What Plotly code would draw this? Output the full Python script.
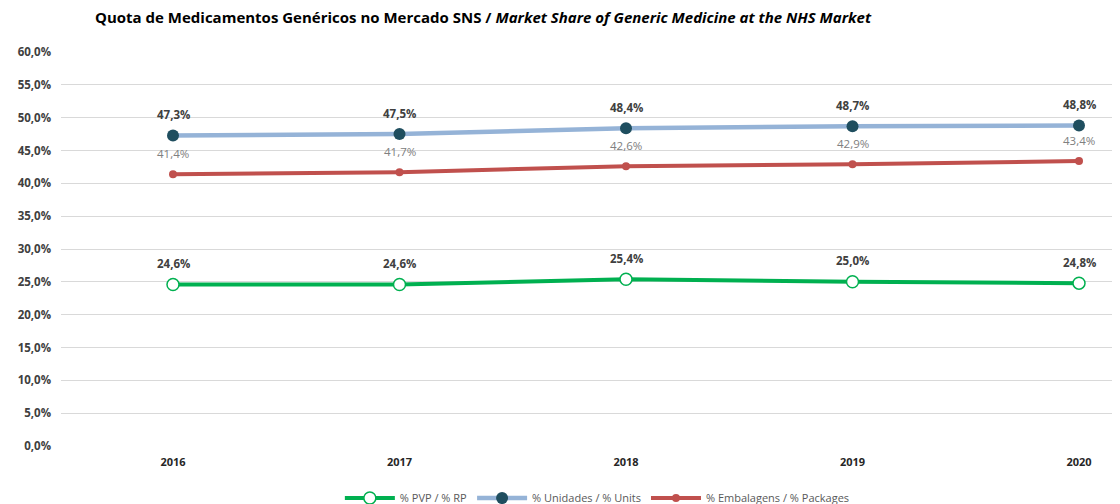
import plotly.graph_objects as go

years = ["2016", "2017", "2018", "2019", "2020"]
pvp = [24.6, 24.6, 25.4, 25.0, 24.8]
unidades = [47.3, 47.5, 48.4, 48.7, 48.8]
embalagens = [41.4, 41.7, 42.6, 42.9, 43.4]
y_ticks = [0, 5, 10, 15, 20, 25, 30, 35, 40, 45, 50, 55, 60]

def lab(v):
    return [f"{x:.1f}%".replace(".", ",") for x in v]

FONT = "Open Sans"
xi = list(range(len(years)))
fig = go.Figure()

fig.add_trace(go.Scatter(
    x=xi, y=pvp, name="% PVP / % RP", mode="lines+markers",
    line=dict(color="#00B050", width=4),
    marker=dict(symbol="circle", size=12, color="white", line=dict(color="#00B050", width=1.5)),
))
fig.add_trace(go.Scatter(
    x=xi, y=unidades, name="% Unidades / % Units", mode="lines+markers",
    line=dict(color="#95B3D7", width=4.5),
    marker=dict(symbol="circle", size=12, color="#1F4E5F"),
))
fig.add_trace(go.Scatter(
    x=xi, y=embalagens, name="% Embalagens / % Packages", mode="lines+markers",
    line=dict(color="#C0504D", width=4),
    marker=dict(symbol="circle", size=8, color="#C0504D"),
))

annotations = []
for vals, color, bold in [(unidades, "#404040", True), (embalagens, "#808080", False), (pvp, "#404040", True)]:
    for x, y, t in zip(xi, vals, lab(vals)):
        annotations.append(dict(
            x=x, y=y, text=f"<b>{t}</b>" if bold else t, showarrow=False,
            yshift=21, xanchor="center", yanchor="middle",
            font=dict(family=FONT, size=11.5, color=color),
        ))

fig.update_layout(
    width=1112, height=496,
    margin=dict(l=53, r=0, t=44, b=58),
    paper_bgcolor="white", plot_bgcolor="white",
    annotations=annotations,
    title=dict(
        text="<b>Quota de Medicamentos Genéricos no Mercado SNS / <i>Market Share of Generic Medicine at the NHS Market</i></b>",
        x=87/1112, xanchor="left", xref="container", y=1-10/496, yanchor="middle", yref="container",
        font=dict(family=FONT, size=15, color="#000000"),
    ),
    xaxis=dict(
        tickmode="array", tickvals=xi, ticktext=years,
        range=[-0.4945, 4.181], showgrid=False, zeroline=False, showline=False,
        tickfont=dict(family=FONT, size=11, color="#262626", weight="bold"),
        ticks="", ticklabelstandoff=8,
    ),
    yaxis=dict(
        range=[0, 60], tickmode="array", tickvals=y_ticks,
        ticktext=[f"{v:.1f}%".replace(".", ",") for v in y_ticks],
        showgrid=True, gridcolor="#D9D9D9", gridwidth=1.3, zeroline=False,
        tickfont=dict(family=FONT, size=11.5, color="#404040", weight="bold"),
        ticks="", ticklabelstandoff=9,
    ),
    legend=dict(
        orientation="h", x=0.53, xanchor="center", xref="container",
        y=0.012, yanchor="middle", yref="container",
        font=dict(family=FONT, size=11, color="#595959"),
        traceorder="normal", itemwidth=50,
    ),
    showlegend=True,
)

fig.write_html("out.html")
